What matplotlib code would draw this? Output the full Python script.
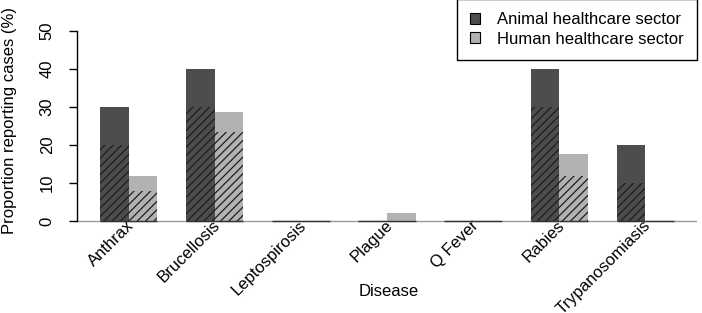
import matplotlib

matplotlib.use('Agg')
import matplotlib.pyplot as plt
import matplotlib.transforms as mtransforms
import numpy as np
from matplotlib.patches import Patch

plt.rcParams['font.family'] = ['Liberation Sans', 'DejaVu Sans']
plt.rcParams['hatch.linewidth'] = 0.9

# Данные по заболеваниям
diseases = ['Anthrax', 'Brucellosis', 'Leptospirosis', 'Plague', 'Q Fever',
            'Rabies', 'Trypanosomiasis']
animal_total = [30, 40, 0, 0, 0, 40, 20]
animal_hatched = [20, 30, 0, 0, 0, 30, 10]
human_total = [11.8, 28.8, 0, 2, 0, 17.6, 0]
human_hatched = [8, 23.3, 0, 0, 0, 11.8, 0]

animal_color = '#4d4d4d'
human_color = '#b2b2b2'
hatch_color = '#1e1e1e'

fig = plt.figure(figsize=(7.02, 3.13), dpi=100)
ax = fig.add_axes([77 / 702, 1 - 228.6 / 313, 620 / 702, 205.2 / 313])

# Позиции столбцов: ширина 1, промежуток между группами 1
n = len(diseases)
x_animal = 1.5 + 3 * np.arange(n)
x_human = x_animal + 1

# Серая базовая линия
ax.axhline(0, color='#9a9a9a', lw=1, zorder=1)

ax.bar(x_animal, animal_total, width=1, color=animal_color, lw=0, zorder=2)
ax.bar(x_human, human_total, width=1, color=human_color, lw=0, zorder=2)
ax.bar(x_animal, animal_hatched, width=1, color=animal_color, hatch='////',
       edgecolor=hatch_color, lw=0, zorder=3)
ax.bar(x_human, human_hatched, width=1, color=human_color, hatch='////',
       edgecolor=hatch_color, lw=0, zorder=3)

# Нижние границы столбцов
for xs in (x_animal, x_human):
    ax.hlines(np.zeros(n), xs - 0.5, xs + 0.5, color='#333333', lw=1, zorder=4)

ax.set_xlim(0.2, 21.8)
ax.set_ylim(-2, 52)

for s in ['top', 'right', 'bottom']:
    ax.spines[s].set_visible(False)
ax.spines['left'].set_bounds(0, 50)
ax.spines['left'].set_linewidth(1)

ax.set_yticks([0, 10, 20, 30, 40, 50])
ax.set_yticklabels(['0', '10', '20', '30', '40', '50'], rotation=90, va='center',
                   fontsize=12)
ax.tick_params(axis='y', length=6, width=1, pad=10)

# Подписи заболеваний по центру групп
ax.set_xticks(x_human - 0.5)
ax.set_xticklabels(diseases, rotation=45, ha='right', va='center',
                   rotation_mode='anchor', fontsize=12)
ax.tick_params(axis='x', length=0, pad=1)
shift = mtransforms.ScaledTranslation(3 / 100, 7 / 100, fig.dpi_scale_trans)
for lbl in ax.get_xticklabels():
    lbl.set_transform(lbl.get_transform() + shift)

fig.text(10 / 702, 1 - 121 / 313, 'Proportion reporting cases (%)', rotation=90,
         ha='center', va='center', fontsize=12)
fig.text(389 / 702, 1 - 292 / 313, 'Disease', ha='center', va='center', fontsize=12)

handles = [Patch(facecolor=animal_color, edgecolor='black', lw=0.8),
           Patch(facecolor=human_color, edgecolor='black', lw=0.8)]
leg = fig.legend(handles, ['Animal healthcare sector', 'Human healthcare sector'],
                 loc='upper right', bbox_to_anchor=(697 / 702, 1 + 1 / 313),
                 borderaxespad=0, fancybox=False, fontsize=12, handlelength=0.6,
                 handleheight=0.6, handletextpad=1.0, borderpad=0.8,
                 labelspacing=0.25)
leg.get_frame().set_edgecolor('black')
leg.get_frame().set_linewidth(1)
leg.get_frame().set_alpha(1)

plt.savefig('out.png', dpi=100)
plt.close()
